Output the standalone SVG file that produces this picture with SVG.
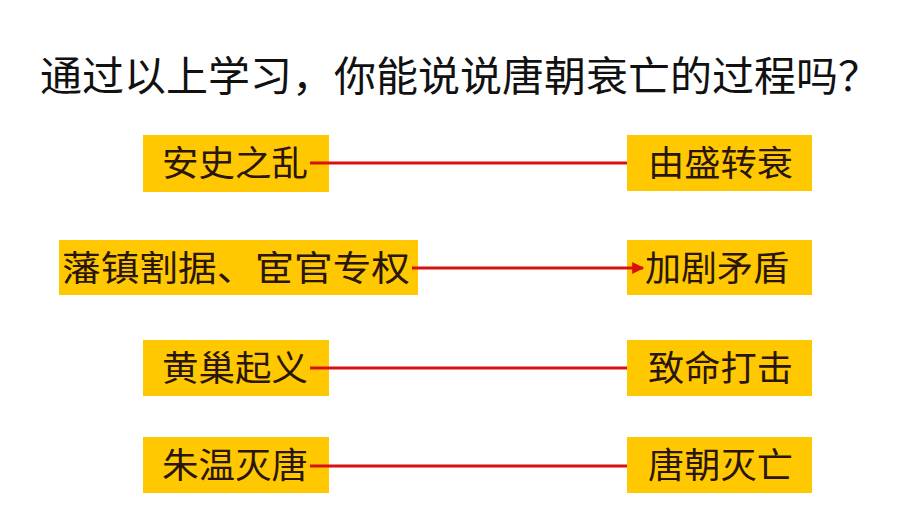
<svg xmlns="http://www.w3.org/2000/svg" width="921" height="512" viewBox="0 0 921 512">
<defs>
<style>
.box{fill:#FFC800;}
.t{font-family:"Noto Sans CJK SC","Noto Sans CJK TC",sans-serif;font-size:35px;fill:#2a160c;}
.title{font-family:"Noto Sans CJK SC",sans-serif;font-size:41px;fill:#111;}
.ln{stroke:#D81010;stroke-width:3;fill:none;}
</style>
<marker id="ah" viewBox="0 0 10 10" refX="9" refY="5" markerWidth="5" markerHeight="4" orient="auto" markerUnits="strokeWidth">
<path d="M0,0 L10,5 L0,10 z" fill="#D81010"/>
</marker>
</defs>
<rect width="921" height="512" fill="#ffffff"/>
<text class="title" x="40" y="91" textLength="840" lengthAdjust="spacingAndGlyphs">通过以上学习，你能说说唐朝衰亡的过程吗？</text>
<g id="n1"><rect class="box" x="143" y="135" width="186" height="57"/><text class="t" x="162" y="176" textLength="146" lengthAdjust="spacingAndGlyphs">安史之乱</text></g>
<g id="n2"><rect class="box" x="627" y="135" width="185" height="56"/><text class="t" x="648" y="176" textLength="145" lengthAdjust="spacingAndGlyphs">由盛转衰</text></g>
<g id="n3"><rect class="box" x="59" y="240" width="359" height="55"/><text class="t" x="62" y="281" textLength="348" lengthAdjust="spacingAndGlyphs">藩镇割据、宦官专权</text></g>
<g id="n4"><rect class="box" x="627" y="240" width="185" height="55"/><text class="t" x="645" y="281" textLength="144" lengthAdjust="spacingAndGlyphs">加剧矛盾</text></g>
<g id="n5"><rect class="box" x="143" y="340" width="186" height="56"/><text class="t" x="162" y="381" textLength="146" lengthAdjust="spacingAndGlyphs">黄巢起义</text></g>
<g id="n6"><rect class="box" x="627" y="340" width="185" height="56"/><text class="t" x="648" y="381" textLength="145" lengthAdjust="spacingAndGlyphs">致命打击</text></g>
<g id="n7"><rect class="box" x="143" y="437" width="186" height="56"/><text class="t" x="162" y="478" textLength="146" lengthAdjust="spacingAndGlyphs">朱温灭唐</text></g>
<g id="n8"><rect class="box" x="627" y="437" width="185" height="56"/><text class="t" x="648" y="478" textLength="145" lengthAdjust="spacingAndGlyphs">唐朝灭亡</text></g>
<g id="connectors">
<line class="ln" x1="310" y1="163" x2="627" y2="163"/>
<line class="ln" x1="412" y1="268" x2="643" y2="268" marker-end="url(#ah)"/>
<line class="ln" x1="310" y1="368" x2="627" y2="368"/>
<line class="ln" x1="310" y1="466" x2="627" y2="466"/>
</g>
</svg>
